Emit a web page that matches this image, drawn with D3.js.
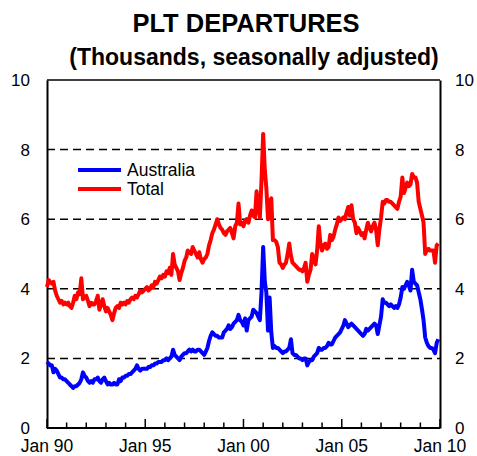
<!DOCTYPE html>
<html>
<head>
<meta charset="utf-8">
<script src="https://cdn.jsdelivr.net/npm/d3@7"></script>
<style>
  body { margin: 0; background: #fff; }
  text { font-family: "Liberation Sans", Arial, sans-serif; fill: #000; }
</style>
</head>
<body>
<svg id="chart" width="477" height="456"></svg>
<script>
// monthly series, Jan 1990 .. Dec 2009 (thousands, seasonally adjusted)
const totalValues = [
  4.05, 4.25, 4.2, 4.15, 4.2, 3.95, 3.8, 3.7, 3.6, 3.65, 3.55, 3.6,
  3.55, 3.6, 3.5, 3.45, 3.6, 3.8, 3.7, 3.9, 3.85, 4.3, 3.7, 3.75,
  3.8, 3.65, 3.5, 3.6, 3.55, 3.55, 3.65, 3.8, 3.4, 3.55, 3.7, 3.5,
  3.35, 3.45, 3.35, 3.25, 3.1, 3.3, 3.45, 3.5, 3.45, 3.6, 3.55, 3.6,
  3.55, 3.65, 3.6, 3.7, 3.75, 3.7, 3.8, 3.75, 3.85, 3.95, 3.9, 3.95,
  4.0, 4.05, 3.95, 4.0, 4.1, 4.05, 4.2, 4.15, 4.25, 4.35, 4.3, 4.4,
  4.35, 4.5, 4.45, 4.6, 4.4, 5.0, 4.7, 4.6, 4.5, 4.25, 4.45, 4.6,
  4.8, 4.9, 5.1, 5.05, 5.0, 5.2, 5.1, 5.0, 4.9, 5.05, 4.85, 4.75,
  4.85, 4.9, 5.0, 5.25, 5.4, 5.6, 5.7, 5.85, 6.0, 5.85, 5.75, 5.7,
  5.6, 5.55, 5.65, 5.7, 5.75, 5.6, 5.45, 5.8, 5.9, 6.45, 5.85, 5.9,
  5.8, 5.95, 6.0, 5.9, 6.1, 6.25, 6.1, 6.05, 6.8, 6.3, 6.05, 7.1,
  8.45, 7.4, 6.9, 6.0, 6.5, 6.6, 5.4, 5.4, 5.35, 5.2, 4.75, 4.7,
  4.6, 4.7, 4.75, 5.0, 5.3, 4.95, 4.75, 4.7, 4.65, 4.6, 4.55, 4.55,
  4.5, 4.6, 4.75, 4.2, 4.4, 4.55, 5.0, 4.85, 4.7, 5.1, 5.8, 5.3,
  5.1, 5.25, 5.3, 5.15, 5.2, 5.55, 5.4, 5.5, 5.7, 5.85, 6.05, 5.95,
  6.0, 6.05, 6.0, 6.2, 6.35, 6.1, 6.4, 6.0, 5.9, 5.6, 5.75, 5.65,
  5.55, 5.6, 5.45, 5.7, 5.9, 5.75, 5.65, 5.8, 5.9, 5.7, 5.25, 5.7,
  6.05, 6.5, 6.45, 6.55, 6.55, 6.5, 6.5, 6.45, 6.4, 6.35, 6.3, 6.5,
  6.65, 7.2, 6.75, 6.9, 7.05, 6.95, 7.0, 7.3, 7.2, 7.2, 7.05, 6.5,
  6.3, 6.1, 5.9, 5.0, 5.1, 5.15, 5.1, 5.1, 5.1, 4.75, 5.25, 5.3
];

const australiaValues = [
  1.9, 1.85, 1.8, 1.8, 1.6, 1.7, 1.65, 1.55, 1.45, 1.45, 1.4, 1.4,
  1.35, 1.3, 1.25, 1.2, 1.15, 1.2, 1.2, 1.25, 1.3, 1.4, 1.6, 1.5,
  1.45, 1.35, 1.3, 1.35, 1.3, 1.4, 1.4, 1.45, 1.35, 1.3, 1.4, 1.45,
  1.35, 1.25, 1.3, 1.25, 1.25, 1.3, 1.25, 1.25, 1.4, 1.35, 1.45, 1.45,
  1.5, 1.5, 1.55, 1.55, 1.6, 1.65, 1.7, 1.8, 1.7, 1.65, 1.7, 1.7,
  1.7, 1.7, 1.75, 1.75, 1.8, 1.8, 1.85, 1.85, 1.9, 1.9, 1.9, 1.95,
  1.95, 2.0, 1.95, 2.0, 2.05, 2.25, 2.1, 2.05, 2.0, 1.95, 2.05, 2.1,
  2.15, 2.15, 2.2, 2.25, 2.2, 2.25, 2.2, 2.2, 2.25, 2.25, 2.2, 2.15,
  2.1, 2.2, 2.3, 2.5, 2.65, 2.75, 2.7, 2.65, 2.65, 2.6, 2.6, 2.6,
  2.75, 2.8, 2.85, 2.95, 2.85, 2.9, 3.0, 3.05, 3.1, 3.25, 3.1, 3.05,
  2.95, 3.15, 2.8, 3.1, 3.15, 3.2, 3.4, 3.35, 3.3, 3.2, 3.1, 3.9,
  5.2, 4.2, 3.9, 2.8, 3.75, 2.75, 2.3, 2.35, 2.3, 2.3, 2.25, 2.2,
  2.15, 2.2, 2.2, 2.25, 2.3, 2.55, 2.15, 2.1, 2.1, 2.05, 2.0, 2.0,
  1.95, 2.0, 2.0, 1.8, 1.9, 1.95, 1.95, 2.05, 2.1, 2.15, 2.3, 2.25,
  2.25, 2.3, 2.3, 2.35, 2.45, 2.4, 2.4, 2.5, 2.6, 2.65, 2.7, 2.75,
  2.85, 2.95, 3.1, 3.0, 2.9, 2.95, 3.0, 2.95, 2.9, 2.85, 2.8, 2.75,
  2.7, 2.65, 2.7, 2.85, 2.8, 2.85, 2.9, 2.95, 3.0, 2.95, 2.7, 2.95,
  3.2, 3.7, 3.6, 3.6, 3.55, 3.5, 3.55, 3.5, 3.45, 3.5, 3.45, 3.55,
  3.75, 4.05, 4.0, 4.1, 4.2, 4.1, 3.95, 4.55, 4.2, 4.15, 4.1, 3.9,
  3.7, 3.4, 3.1, 2.6, 2.45, 2.35, 2.3, 2.3, 2.25, 2.15, 2.45, 2.55
];

const seriesNames = ["Australia", "Total"];
const seriesColors = ["#0000ff", "#ff0000"];
const yTicks = [0, 2, 4, 6, 8, 10];
const yGridLines = [2, 4, 6, 8];
const xTickLabels = ["Jan 90", "Jan 95", "Jan 00", "Jan 05", "Jan 10"];
const startYear = 1990, endYear = 2010;

const margin = {top: 80, right: 37, bottom: 28, left: 47};
const width = 477, height = 456;

var svg = d3.select("#chart");
var plotW = width - margin.left - margin.right,
    plotH = height - margin.top - margin.bottom;

// month index -> date
var toDate = function(i) { return new Date(startYear, i, 1); };

var xScale = d3.scaleTime()
    .domain([new Date(startYear, 0, 1), new Date(endYear, 0, 1)])
    .range([0, plotW]);
var yScale = d3.scaleLinear()
    .domain([0, 10])
    .range([plotH, 0]);

// titles
svg.append("text")
    .attr("x", 246).attr("y", 32)
    .attr("text-anchor", "middle")
    .style("font-size", "25.5px").style("font-weight", "bold")
    .text("PLT DEPARTURES");
svg.append("text")
    .attr("x", 254).attr("y", 65)
    .attr("text-anchor", "middle")
    .style("font-size", "23px").style("font-weight", "bold")
    .text("(Thousands, seasonally adjusted)");

var g = svg.append("g")
    .attr("transform", "translate(" + margin.left + "," + margin.top + ")");

// dashed grid
g.selectAll(".grid")
    .data(yGridLines)
    .enter().append("line")
    .attr("class", "grid")
    .attr("x1", 0).attr("x2", plotW)
    .attr("y1", function(d) { return yScale(d); })
    .attr("y2", function(d) { return yScale(d); })
    .attr("stroke", "#000")
    .attr("stroke-width", 1.5)
    .attr("stroke-dasharray", "8,5");

// top border
g.append("line")
    .attr("x1", 0).attr("x2", plotW)
    .attr("y1", yScale(10)).attr("y2", yScale(10))
    .attr("stroke", "#000").attr("stroke-width", 1.5);

// y axes, labels both sides
var yAxisL = d3.axisLeft(yScale).tickValues(yTicks).tickSize(0).tickPadding(17);
var yAxisR = d3.axisRight(yScale).tickValues(yTicks).tickSize(0).tickPadding(15);
[g.append("g").call(yAxisL),
 g.append("g").attr("transform", "translate(" + plotW + ",0)").call(yAxisR)]
  .forEach(function(ax) {
    ax.select(".domain").attr("stroke", "#000").attr("stroke-width", 2);
    ax.selectAll("text").style("font-size", "17px")
      .style("font-family", "'Liberation Sans', Arial, sans-serif").attr("fill", "#000");
  });

// x axis: minor yearly ticks, major every 5 years, pointing up
var years = d3.range(startYear, endYear + 1);
g.selectAll(".xtick")
    .data(years)
    .enter().append("line")
    .attr("class", "xtick")
    .attr("x1", function(d) { return xScale(new Date(d, 0, 1)); })
    .attr("x2", function(d) { return xScale(new Date(d, 0, 1)); })
    .attr("y1", plotH)
    .attr("y2", function(d) { return plotH - ((d - startYear) % 5 === 0 ? 9 : 5.5); })
    .attr("stroke", "#000").attr("stroke-width", 1.5);

g.append("line")
    .attr("x1", 0).attr("x2", plotW)
    .attr("y1", plotH).attr("y2", plotH)
    .attr("stroke", "#000").attr("stroke-width", 2);

g.selectAll(".xlabel")
    .data(xTickLabels)
    .enter().append("text")
    .attr("class", "xlabel")
    .attr("x", function(d, i) { return xScale(new Date(startYear + i * 5, 0, 1)); })
    .attr("y", plotH + 24)
    .attr("text-anchor", "middle")
    .style("font-size", "17.5px")
    .text(function(d) { return d; });

// lines
var line = d3.line()
    .x(function(d, i) { return xScale(toDate(i)); })
    .y(function(d) { return yScale(d); });

[australiaValues, totalValues].forEach(function(vals, k) {
  g.append("path")
      .datum(vals)
      .attr("fill", "none")
      .attr("stroke", seriesColors[k])
      .attr("stroke-width", 4)
      .attr("stroke-linejoin", "round")
      .attr("d", line);
});

// legend
var legend = g.selectAll(".legend")
    .data(seriesNames)
    .enter().append("g")
    .attr("class", "legend")
    .attr("transform", function(d, i) { return "translate(31," + (90 + i * 19) + ")"; });
legend.append("line")
    .attr("x1", 0).attr("x2", 43)
    .attr("stroke", function(d, i) { return seriesColors[i]; })
    .attr("stroke-width", 4);
legend.append("text")
    .attr("x", 49).attr("dy", "0.35em")
    .style("font-size", "17.5px")
    .text(function(d) { return d; });
</script>
</body>
</html>
